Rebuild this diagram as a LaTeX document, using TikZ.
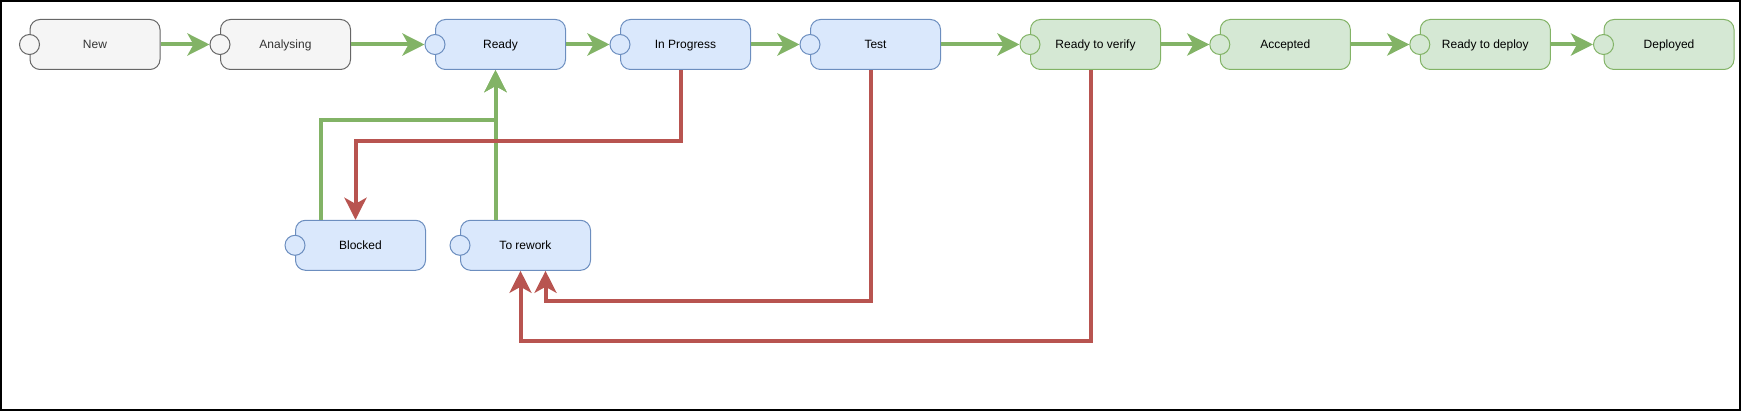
\documentclass[tikz,border=0pt]{standalone}
\usepackage{fontspec}
\setmainfont{Liberation Sans}
\usepackage{xcolor}
\usepackage{tikz}
\usetikzlibrary{arrows.meta,calc,positioning}
\definecolor{idlefill}{HTML}{F5F5F5}
\definecolor{idleline}{HTML}{666666}
\definecolor{idletext}{HTML}{333333}
\definecolor{workfill}{HTML}{DAE8FC}
\definecolor{workline}{HTML}{6C8EBF}
\definecolor{donefill}{HTML}{D5E8D4}
\definecolor{doneline}{HTML}{82B366}
\definecolor{fwdcol}{HTML}{82B366}
\definecolor{backcol}{HTML}{B85450}
\tikzset{
  stagebox/.style={rounded corners=10pt, line width=1pt, minimum width=130pt,
    minimum height=50pt, inner sep=0pt, text height=8.6pt, text depth=0pt,
    font=\fontsize{12}{14}\selectfont},
  port/.style={circle, minimum size=20pt, inner sep=0pt, line width=1pt},
  idlecol/.style={draw=idleline, fill=idlefill, text=idletext},
  workcol/.style={draw=workline, fill=workfill, text=black},
  donecol/.style={draw=doneline, fill=donefill, text=black},
  fwdarr/.style={-{Stealth[length=22pt, width=22pt, inset=6pt]}, line width=4pt, draw=fwdcol},
  backarr/.style={-{Stealth[length=22pt, width=22pt, inset=6pt]}, line width=4pt, draw=backcol},
}

\begin{document}
\begin{tikzpicture}[x=1pt, y=-1pt]
\useasboundingbox (0,0) rectangle (1741,411);
\draw[line width=2pt] (1,1) rectangle (1740,410);

% main flow
\node[stagebox, idlecol] (new)    at (95,44.5)     {New};
\node[stagebox, idlecol] (ana)    at (285.5,44.5)  {Analysing};
\node[stagebox, workcol] (ready)  at (500.5,44.5)  {Ready};
\node[stagebox, workcol] (prog)   at (685.5,44.5)  {In Progress};
\node[stagebox, workcol] (test)   at (875.5,44.5)  {Test};
\node[stagebox, donecol] (verify) at (1095.5,44.5) {Ready to verify};
\node[stagebox, donecol] (acc)    at (1285.3,44.5) {Accepted};
\node[stagebox, donecol] (deploy) at (1485.3,44.5) {Ready to deploy};
\node[stagebox, donecol] (done)   at (1669,44.5)   {Deployed};

% side states
\node[stagebox, workcol] (blocked) at (360.5,245.3) {Blocked};
\node[stagebox, workcol] (rework)  at (525.5,245.3) {To rework};

% ports on the left side
\foreach \n/\c in {new/idlecol, ana/idlecol, ready/workcol, prog/workcol, test/workcol,
    verify/donecol, acc/donecol, deploy/donecol, done/donecol, blocked/workcol, rework/workcol}
  \node[port, \c] (\n-p) at (\n.west) {};

% forward arrows
\draw[fwdarr] (new.east) -- (ana-p.west);
\draw[fwdarr] (ana.east) -- (ready-p.west);
\draw[fwdarr] (ready.east) -- (prog-p.west);
\draw[fwdarr] (prog.east) -- (test-p.west);
\draw[fwdarr] (test.east) -- (verify-p.west);
\draw[fwdarr] (verify.east) -- (acc-p.west);
\draw[fwdarr] (acc.east) -- (deploy-p.west);
\draw[fwdarr] (deploy.east) -- (done-p.west);

% back to ready
\draw[fwdarr] ([xshift=-40pt]blocked.north) -- ++(0,-100) -| ([xshift=-5pt]ready.south);
\draw[fwdarr] ([xshift=-30pt]rework.north) -- ([xshift=-5pt]ready.south);

% returns
\draw[backarr] ([xshift=-5pt]prog.south) -- ++(0,71) -| ([xshift=-5pt]blocked.north);
\draw[backarr] ([xshift=-5pt]test.south) -- ++(0,230.7) -| ([xshift=20pt]rework.south);
\draw[backarr] ([xshift=-5pt]verify.south) -- ++(0,271) -| ([xshift=-5pt]rework.south);
\end{tikzpicture}
\end{document}
